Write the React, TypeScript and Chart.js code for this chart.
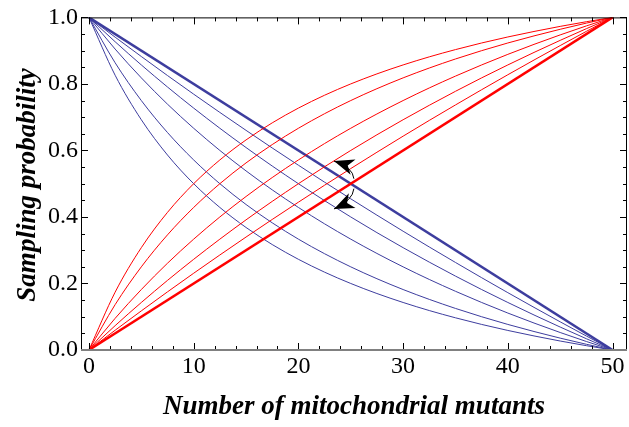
import React, { useEffect, useRef } from "react";
import { Chart, registerables } from "chart.js";

Chart.register(...registerables);

// ---------- data ----------
const xValues = [0, 2.5, 5, 7.5, 10, 12.5, 15, 17.5, 20, 22.5, 25, 27.5, 30, 32.5, 35, 37.5, 40, 42.5, 45, 47.5, 50];

// red (rising) curves, weakest to strongest bias
const red1 = [0, 0.0594, 0.1176, 0.1748, 0.2308, 0.2857, 0.3396, 0.3925, 0.4444, 0.4954, 0.5455, 0.5946, 0.6429, 0.6903, 0.7368, 0.7826, 0.8276, 0.8718, 0.9153, 0.958, 1];
const red2 = [0, 0.0732, 0.1429, 0.2093, 0.2727, 0.3333, 0.3913, 0.4468, 0.5, 0.551, 0.6, 0.6471, 0.6923, 0.7358, 0.7778, 0.8182, 0.8571, 0.8947, 0.931, 0.9661, 1];
const red3 = [0, 0.0952, 0.1818, 0.2609, 0.3333, 0.4, 0.4615, 0.5185, 0.5714, 0.6207, 0.6667, 0.7097, 0.75, 0.7879, 0.8235, 0.8571, 0.8889, 0.9189, 0.9474, 0.9744, 1];
const red4 = [0, 0.1364, 0.25, 0.3462, 0.4286, 0.5, 0.5625, 0.6176, 0.6667, 0.7105, 0.75, 0.7857, 0.8182, 0.8478, 0.875, 0.9, 0.9231, 0.9444, 0.9643, 0.9828, 1];
const red5 = [0, 0.1739, 0.3077, 0.4138, 0.5, 0.5714, 0.6316, 0.6829, 0.7273, 0.766, 0.8, 0.8302, 0.8571, 0.8814, 0.9032, 0.9231, 0.9412, 0.9577, 0.973, 0.987, 1];

// blue (falling) curves
const blue1 = [1, 0.9406, 0.8824, 0.8252, 0.7692, 0.7143, 0.6604, 0.6075, 0.5556, 0.5046, 0.4545, 0.4054, 0.3571, 0.3097, 0.2632, 0.2174, 0.1724, 0.1282, 0.0847, 0.042, 0];
const blue2 = [1, 0.9268, 0.8571, 0.7907, 0.7273, 0.6667, 0.6087, 0.5532, 0.5, 0.449, 0.4, 0.3529, 0.3077, 0.2642, 0.2222, 0.1818, 0.1429, 0.1053, 0.069, 0.0339, 0];
const blue3 = [1, 0.9048, 0.8182, 0.7391, 0.6667, 0.6, 0.5385, 0.4815, 0.4286, 0.3793, 0.3333, 0.2903, 0.25, 0.2121, 0.1765, 0.1429, 0.1111, 0.0811, 0.0526, 0.0256, 0];
const blue4 = [1, 0.8636, 0.75, 0.6538, 0.5714, 0.5, 0.4375, 0.3824, 0.3333, 0.2895, 0.25, 0.2143, 0.1818, 0.1522, 0.125, 0.1, 0.0769, 0.0556, 0.0357, 0.0172, 0];
const blue5 = [1, 0.8261, 0.6923, 0.5862, 0.5, 0.4286, 0.3684, 0.3171, 0.2727, 0.234, 0.2, 0.1698, 0.1429, 0.1186, 0.0968, 0.0769, 0.0588, 0.0423, 0.027, 0.013, 0];

// neutral (straight) lines
const neutralX = [0, 50];
const neutralRed = [0, 1];
const neutralBlue = [1, 0];

// arrows: [startX, startY, controlX, controlY, tipX, tipY]
const arrowUp = [25.3, 0.515, 25.2, 0.55, 23.4, 0.568];
const arrowDown = [25.3, 0.485, 25.2, 0.45, 23.4, 0.424];

// ticks
const xMajorTicks = [0, 10, 20, 30, 40, 50];
const yMajorTicks = [0, 0.2, 0.4, 0.6, 0.8, 1.0];
const yTickLabels = ["0.0", "0.2", "0.4", "0.6", "0.8", "1.0"];

const xTitle = "Number of mitochondrial mutants";
const yTitle = "Sampling probability";

const RED = "#ff0000";
const BLUE = "#3d3d9e";
const SERIF = '"Liberation Serif", "Times New Roman", serif';

function pts(xs: number[], ys: number[]) {
  return xs.map((x, i) => ({ x, y: ys[i] }));
}

const framePlugin = {
  id: "frameAndTicks",
  afterDatasetsDraw(chart: any) {
    const { ctx, chartArea, scales } = chart;
    const { left, right, top, bottom } = chartArea;
    const xs = scales.x;
    const ys = scales.y;
    ctx.save();

    // arrows
    const drawArrow = (a: number[]) => {
      const sx = xs.getPixelForValue(a[0]);
      const sy = ys.getPixelForValue(a[1]);
      const cx = xs.getPixelForValue(a[2]);
      const cy = ys.getPixelForValue(a[3]);
      const tx = xs.getPixelForValue(a[4]);
      const ty = ys.getPixelForValue(a[5]);
      ctx.strokeStyle = "#000";
      ctx.lineWidth = 1;
      ctx.beginPath();
      ctx.moveTo(sx, sy);
      ctx.quadraticCurveTo(cx, cy, tx, ty);
      ctx.stroke();
      const ang = Math.atan2(ty - cy, tx - cx);
      const L = 20;
      const W = 8;
      const bx = tx - L * Math.cos(ang);
      const by = ty - L * Math.sin(ang);
      const nx = -Math.sin(ang);
      const ny = Math.cos(ang);
      const mx = tx - L * 0.72 * Math.cos(ang);
      const my = ty - L * 0.72 * Math.sin(ang);
      ctx.fillStyle = "#000";
      ctx.beginPath();
      ctx.moveTo(tx, ty);
      ctx.lineTo(bx + nx * W, by + ny * W);
      ctx.lineTo(mx, my);
      ctx.lineTo(bx - nx * W, by - ny * W);
      ctx.closePath();
      ctx.fill();
    };
    drawArrow(arrowUp);
    drawArrow(arrowDown);

    // frame
    ctx.strokeStyle = "#000";
    ctx.lineWidth = 1;
    ctx.beginPath();
    ctx.moveTo(left + 0.5, bottom);
    ctx.lineTo(left + 0.5, top + 0.5);
    ctx.lineTo(right - 0.5, top + 0.5);
    ctx.lineTo(right - 0.5, bottom);
    ctx.stroke();

    // ticks
    const majorLen = 7;
    const minorLen = 4;
    ctx.beginPath();
    for (let v = 0; v <= 50.001; v += 2) {
      const isMajor = Math.abs(v % 10) < 1e-6;
      const len = isMajor ? majorLen : minorLen;
      const px = Math.round(xs.getPixelForValue(v)) + 0.5;
      ctx.moveTo(px, bottom);
      ctx.lineTo(px, bottom - len);
      ctx.moveTo(px, top);
      ctx.lineTo(px, top + len);
    }
    for (let i = 0; i <= 20; i++) {
      const v = i * 0.05;
      const isMajor = i % 4 === 0;
      const len = isMajor ? majorLen : minorLen;
      const py = Math.round(ys.getPixelForValue(v)) + 0.5;
      ctx.moveTo(left, py);
      ctx.lineTo(left + len, py);
      ctx.moveTo(right, py);
      ctx.lineTo(right - len, py);
    }
    ctx.stroke();

    // bottom axis (gray)
    ctx.strokeStyle = "#808080";
    ctx.lineWidth = 2;
    ctx.beginPath();
    ctx.moveTo(left, bottom);
    ctx.lineTo(right, bottom);
    ctx.stroke();

    ctx.restore();
  },
  afterDraw(chart: any) {
    const { ctx, chartArea } = chart;
    ctx.save();
    ctx.fillStyle = "#000";
    ctx.font = `bold italic 27px ${SERIF}`;
    ctx.textAlign = "center";
    ctx.textBaseline = "middle";
    ctx.fillText(xTitle, (chartArea.left + chartArea.right) / 2, 407);
    ctx.translate(28, 185);
    ctx.rotate(-Math.PI / 2);
    ctx.fillText(yTitle, 0, 0);
    ctx.restore();
  },
};

export default function App() {
  const ref = useRef<HTMLCanvasElement | null>(null);

  useEffect(() => {
    if (!ref.current) return;
    const thin = (data: number[], color: string) => ({
      data: pts(xValues, data),
      borderColor: color,
      borderWidth: 1,
      pointRadius: 0,
      cubicInterpolationMode: "monotone" as const,
      fill: false,
    });
    const chart = new Chart(ref.current, {
      type: "line",
      data: {
        datasets: [
          thin(red1, RED),
          thin(red2, RED),
          thin(red3, RED),
          thin(red4, RED),
          thin(red5, RED),
          { data: pts(neutralX, neutralRed), borderColor: RED, borderWidth: 2.5, pointRadius: 0, fill: false },
          thin(blue1, BLUE),
          thin(blue2, BLUE),
          thin(blue3, BLUE),
          thin(blue4, BLUE),
          thin(blue5, BLUE),
          { data: pts(neutralX, neutralBlue), borderColor: BLUE, borderWidth: 2.5, pointRadius: 0, fill: false },
        ],
      },
      options: {
        responsive: false,
        animation: false,
        layout: { padding: { top: 13, right: 2, left: 0, bottom: 0 } },
        plugins: { legend: { display: false }, tooltip: { enabled: false }, title: { display: false } },
        scales: {
          x: {
            type: "linear",
            min: -0.76,
            max: 51.38,
            grid: { display: false, drawTicks: false },
            border: { display: false },
            afterBuildTicks: (s: any) => {
              s.ticks = xMajorTicks.map((v) => ({ value: v }));
            },
            afterFit: (s: any) => {
              s.height = 77;
            },
            ticks: {
              autoSkip: false,
              maxRotation: 0,
              padding: 2,
              color: "#000",
              font: { family: SERIF, size: 24 },
              callback: (v: any) => String(v),
            },
          },
          y: {
            type: "linear",
            min: 0,
            max: 1,
            grid: { display: false, drawTicks: false },
            border: { display: false },
            afterBuildTicks: (s: any) => {
              s.ticks = yMajorTicks.map((v) => ({ value: v }));
            },
            afterFit: (s: any) => {
              s.width = 81;
            },
            ticks: {
              autoSkip: false,
              padding: 3,
              color: "#000",
              font: { family: SERIF, size: 24 },
              callback: (v: any) => yTickLabels[yMajorTicks.findIndex((t) => Math.abs(t - Number(v)) < 1e-6)] ?? "",
            },
          },
        },
      },
      plugins: [framePlugin],
    });
    return () => chart.destroy();
  }, []);

  return (
    <div style={{ position: "fixed", left: 0, top: 0, width: 629, height: 427, background: "#fff" }}>
      <canvas ref={ref} width={629} height={427} style={{ width: 629, height: 427 }} />
    </div>
  );
}
